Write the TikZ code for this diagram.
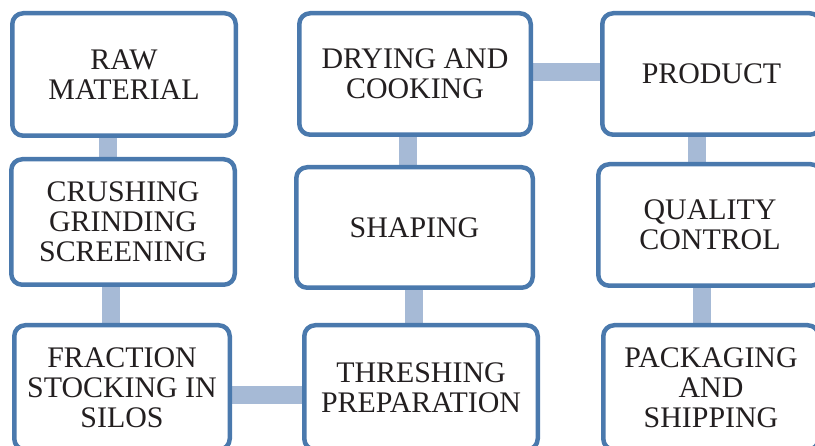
\documentclass[tikz,border=0pt]{standalone}
\usepackage{fontspec}
\setmainfont{Liberation Serif}
\usetikzlibrary{backgrounds}
\definecolor{boxline}{HTML}{4A79AD}
\definecolor{linkbar}{HTML}{A6BAD6}
\definecolor{ink}{HTML}{231F20}
\begin{document}
\begin{tikzpicture}[line join=round,
  stage/.style={draw=boxline,line width=4.5bp,fill=white,rounded corners=11bp,
    align=center,text=ink,font=\fontsize{30}{30}\selectfont,inner sep=0pt},
  link/.style={draw=linkbar,line width=18bp}]
%%
\useasboundingbox (0bp,0bp) rectangle (815bp,446bp);
\node (node_raw) at (124bp,371.5bp) [stage,minimum width=223.5bp,minimum height=122.5bp] {RAW\\MATERIAL};
  \node (node_crush) at (123bp,224bp) [stage,minimum width=223.5bp,minimum height=125.5bp] {CRUSHING\\GRINDING\\SCREENING};
  \node (node_silo) at (122bp,58.5bp) [stage,minimum width=215.5bp,minimum height=124.5bp] {FRACTION\\STOCKING IN\\SILOS};
  \node (node_dry) at (415bp,372bp) [stage,minimum width=231.5bp,minimum height=121.5bp] {DRYING AND\\COOKING};
  \node (node_shape) at (414.5bp,218.5bp) [stage,minimum width=236.5bp,minimum height=120.5bp] {SHAPING};
  \node (node_thresh) at (421bp,58.5bp) [stage,minimum width=233.5bp,minimum height=124.5bp] {THRESHING\\PREPARATION};
  \node (node_prod) at (711.5bp,372bp) [stage,minimum width=218.5bp,minimum height=121.5bp] {PRODUCT};
  \node (node_qual) at (710bp,221bp) [stage,minimum width=223.5bp,minimum height=121.5bp] {QUALITY\\CONTROL};
  \node (node_pack) at (711bp,58.5bp) [stage,minimum width=215.5bp,minimum height=124.5bp] {PACKAGING\\AND\\SHIPPING};
%
\begin{scope}[on background layer]
  \draw [link] ([xshift=-16bp]node_raw.center) -- ([xshift=-16bp]node_raw.center |- node_crush.center);
  \draw [link] ([xshift=-12bp]node_crush.center) -- ([xshift=-12bp]node_crush.center |- node_silo.center);
  \draw [link] ([yshift=-7.5bp]node_silo.center) -- ([yshift=-7.5bp]node_silo.center -| node_thresh.center);
  \draw [link] ([xshift=-7.5bp]node_thresh.center) -- ([xshift=-7.5bp]node_thresh.center |- node_shape.center);
  \draw [link] ([xshift=-7bp]node_shape.center) -- ([xshift=-7bp]node_shape.center |- node_dry.center);
  \draw [link] ([yshift=1.5bp]node_dry.center) -- ([yshift=1.5bp]node_dry.center -| node_prod.center);
  \draw [link] ([xshift=-14.5bp]node_prod.center) -- ([xshift=-14.5bp]node_prod.center |- node_qual.center);
  \draw [link] ([xshift=-8bp]node_qual.center) -- ([xshift=-8bp]node_qual.center |- node_pack.center);
\end{scope}
%
\end{tikzpicture}
\end{document}
